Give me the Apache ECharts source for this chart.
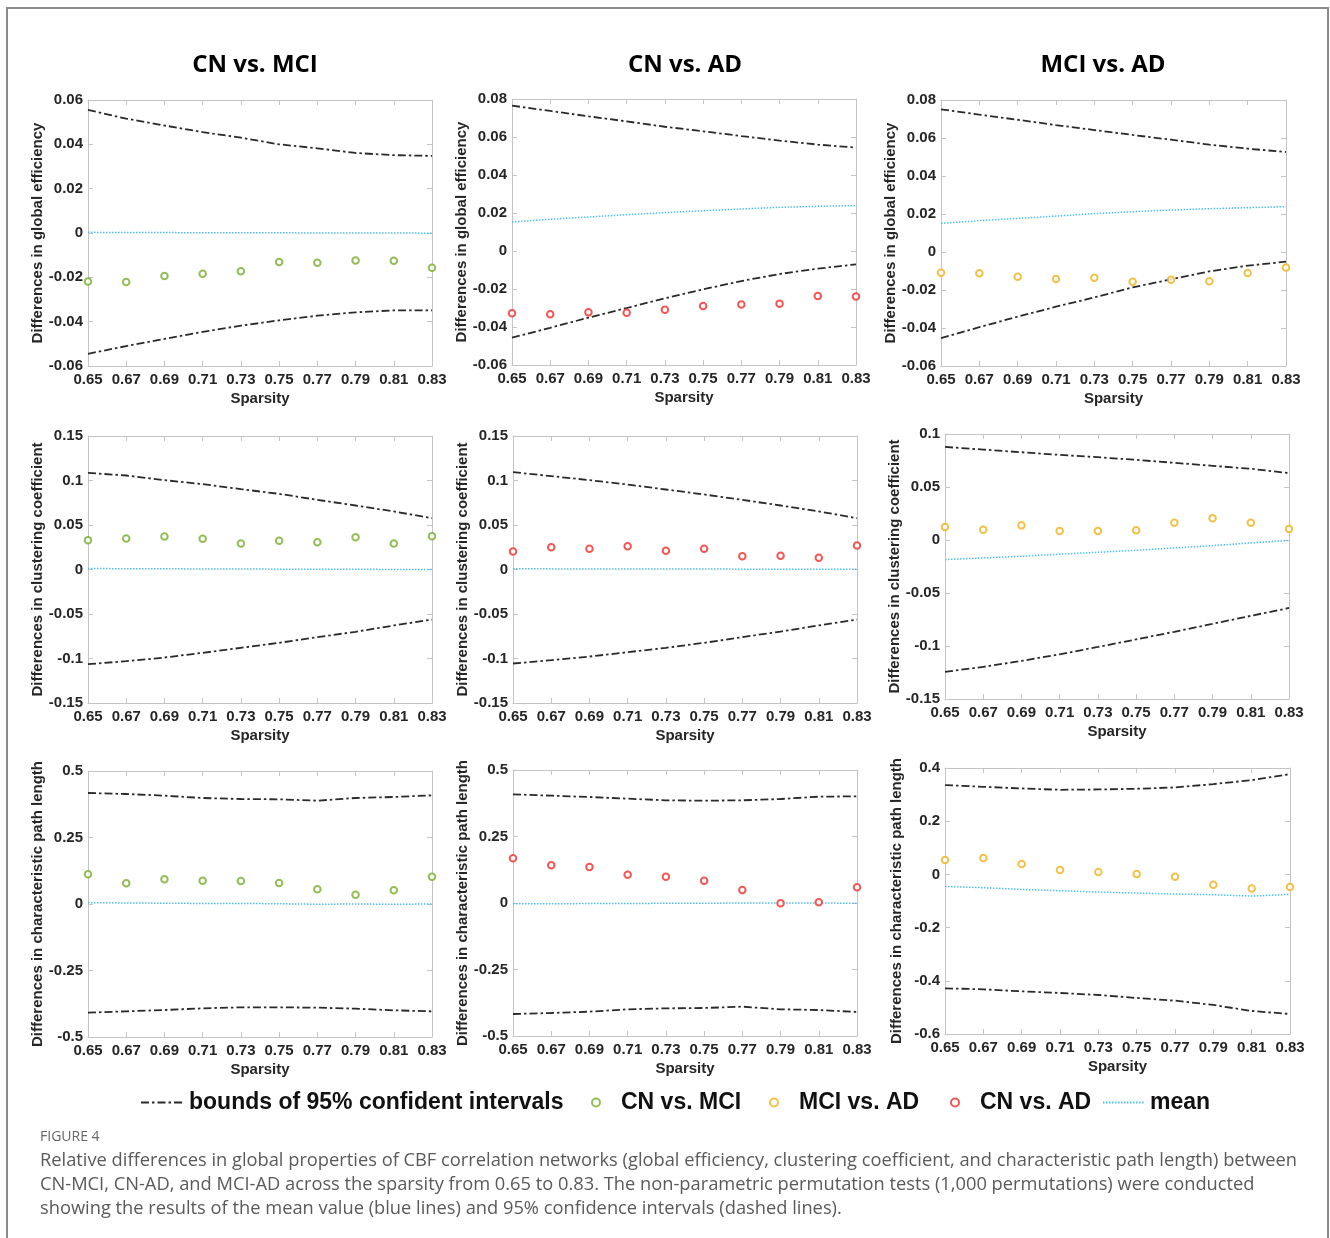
<!DOCTYPE html>
<html><head><meta charset="utf-8">
<script src="https://cdn.jsdelivr.net/npm/echarts@6/dist/echarts.min.js"></script>
<style>html,body{margin:0;padding:0;background:#fff}#c{width:1330px;height:1238px}</style>
</head><body><div id="c"></div>
<script>
// ---------- data ----------
const sparsity = ['0.65','0.67','0.69','0.71','0.73','0.75','0.77','0.79','0.81','0.83'];
const groupTitles = ['CN vs. MCI', 'CN vs. AD', 'MCI vs. AD'];
const measureNames = ['Differences in global efficiency', 'Differences in clustering coefficient', 'Differences in characteristic path length'];
const boundName = 'bounds of 95% confident intervals';
const meanName = 'mean';

// y-axis tick ranges [min, max, step] per row/column
const yTicksGE = [[-0.06, 0.06, 0.02], [-0.06, 0.08, 0.02], [-0.06, 0.08, 0.02]];
const yTicksCC = [[-0.15, 0.15, 0.05], [-0.15, 0.15, 0.05], [-0.15, 0.1, 0.05]];
const yTicksPL = [[-0.5, 0.5, 0.25], [-0.5, 0.5, 0.25], [-0.6, 0.4, 0.2]];

// Global efficiency
const geCnMciUpper = [0.0555, 0.0516, 0.0485, 0.0455, 0.0430, 0.0400, 0.0382, 0.0361, 0.0351, 0.0348];
const geCnMciLower = [-0.0545, -0.0510, -0.0478, -0.0446, -0.0418, -0.0394, -0.0373, -0.0358, -0.0349, -0.0349];
const geCnMciMean  = [0.0003, 0.0002, 0.0002, 0.0001, 0.0001, 0.0001, 0.0000, 0.0000, 0.0000, -0.0001];
const geCnMciDiff  = [-0.0219, -0.0221, -0.0194, -0.0184, -0.0173, -0.0131, -0.0134, -0.0124, -0.0125, -0.0157];

const geCnAdUpper = [0.0765, 0.0737, 0.0709, 0.0682, 0.0654, 0.0630, 0.0605, 0.0581, 0.0560, 0.0544];
const geCnAdLower = [-0.0456, -0.0404, -0.0351, -0.0300, -0.0249, -0.0202, -0.0158, -0.0121, -0.0093, -0.0070];
const geCnAdMean  = [0.0153, 0.0167, 0.0179, 0.0191, 0.0202, 0.0212, 0.0221, 0.0230, 0.0235, 0.0239];
const geCnAdDiff  = [-0.0328, -0.0333, -0.0323, -0.0325, -0.0309, -0.0289, -0.0282, -0.0277, -0.0237, -0.0239];

const geMciAdUpper = [0.0751, 0.0723, 0.0696, 0.0668, 0.0642, 0.0616, 0.0591, 0.0565, 0.0544, 0.0526];
const geMciAdLower = [-0.0453, -0.0396, -0.0340, -0.0288, -0.0239, -0.0186, -0.0144, -0.0102, -0.0072, -0.0051];
const geMciAdMean  = [0.0151, 0.0165, 0.0177, 0.0189, 0.0202, 0.0212, 0.0221, 0.0228, 0.0233, 0.0239];
const geMciAdDiff  = [-0.0109, -0.0112, -0.0130, -0.0142, -0.0135, -0.0156, -0.0146, -0.0154, -0.0111, -0.0081];

// Clustering coefficient
const ccCnMciUpper = [0.1086, 0.1056, 0.1004, 0.0959, 0.0903, 0.0850, 0.0783, 0.0719, 0.0652, 0.0577];
const ccCnMciLower = [-0.1064, -0.1030, -0.0989, -0.0936, -0.0880, -0.0824, -0.0760, -0.0700, -0.0629, -0.0562];
const ccCnMciMean  = [0.0011, 0.0009, 0.0008, 0.0006, 0.0005, 0.0004, 0.0003, 0.0002, 0.0001, 0.0000];
const ccCnMciDiff  = [0.0330, 0.0348, 0.0371, 0.0345, 0.0292, 0.0322, 0.0307, 0.0363, 0.0292, 0.0375];

const ccCnAdUpper = [0.1094, 0.1049, 0.1004, 0.0955, 0.0899, 0.0843, 0.0783, 0.0719, 0.0652, 0.0577];
const ccCnAdLower = [-0.1056, -0.1019, -0.0978, -0.0929, -0.0880, -0.0824, -0.0760, -0.0697, -0.0629, -0.0562];
const ccCnAdMean  = [0.0008, 0.0007, 0.0007, 0.0006, 0.0005, 0.0005, 0.0004, 0.0004, 0.0003, 0.0003];
const ccCnAdDiff  = [0.0202, 0.0251, 0.0232, 0.0262, 0.0210, 0.0232, 0.0150, 0.0154, 0.0131, 0.0270];

const ccMciAdUpper = [0.0878, 0.0853, 0.0828, 0.0803, 0.0781, 0.0756, 0.0728, 0.0700, 0.0672, 0.0631];
const ccMciAdLower = [-0.1244, -0.1197, -0.1141, -0.1078, -0.1009, -0.0938, -0.0866, -0.0791, -0.0716, -0.0641];
const ccMciAdMean  = [-0.0184, -0.0169, -0.0153, -0.0134, -0.0116, -0.0097, -0.0075, -0.0053, -0.0028, -0.0003];
const ccMciAdDiff  = [0.0122, 0.0097, 0.0138, 0.0084, 0.0084, 0.0091, 0.0163, 0.0206, 0.0163, 0.0103];

// Characteristic path length
const plCnMciUpper = [0.4173, 0.4135, 0.4073, 0.3985, 0.3947, 0.3935, 0.3885, 0.3985, 0.4023, 0.4085];
const plCnMciLower = [-0.4085, -0.4035, -0.3985, -0.3922, -0.3885, -0.3885, -0.3897, -0.3935, -0.3997, -0.4035];
const plCnMciMean  = [0.005, 0.004, 0.003, 0.002, 0.002, 0.001, -0.001, 0.000, -0.001, 0.000];
const plCnMciDiff  = [0.1115, 0.0777, 0.0927, 0.0877, 0.0865, 0.0789, 0.0551, 0.0351, 0.0514, 0.1028];

const plCnAdUpper = [0.4085, 0.4035, 0.3985, 0.3922, 0.3860, 0.3847, 0.3860, 0.3910, 0.3997, 0.4010];
const plCnAdLower = [-0.4173, -0.4135, -0.4085, -0.3997, -0.3960, -0.3947, -0.3897, -0.3997, -0.4023, -0.4098];
const plCnAdMean  = [-0.003, -0.003, -0.002, -0.002, -0.001, -0.001, 0.000, 0.000, 0.000, -0.001];
const plCnAdDiff  = [0.1679, 0.1416, 0.1353, 0.1065, 0.0990, 0.0840, 0.0489, -0.0013, 0.0025, 0.0589];

const plMciAdUpper = [0.3356, 0.3294, 0.3231, 0.3181, 0.3193, 0.3219, 0.3269, 0.3394, 0.3544, 0.3770];
const plMciAdLower = [-0.4283, -0.4321, -0.4396, -0.4458, -0.4533, -0.4646, -0.4746, -0.4909, -0.5135, -0.5247];
const plMciAdMean  = [-0.0451, -0.0501, -0.0564, -0.0614, -0.0664, -0.0701, -0.0739, -0.0764, -0.0814, -0.0751];
const plMciAdDiff  = [0.0539, 0.0614, 0.0388, 0.0163, 0.0088, 0.0013, -0.0088, -0.0388, -0.0526, -0.0476];

const captionLabel = 'FIGURE 4';
const captionLines = [
  'Relative differences in global properties of CBF correlation networks (global efficiency, clustering coefficient, and characteristic path length) between',
  'CN-MCI, CN-AD, and MCI-AD across the sparsity from 0.65 to 0.83. The non-parametric permutation tests (1,000 permutations) were conducted',
  'showing the results of the mean value (blue lines) and 95% confidence intervals (dashed lines).'
];

// ---------- build ----------
const groupColors = ['#77AC30', '#E8312C', '#EDB120']; // CN vs MCI, CN vs AD, MCI vs AD
const boundColor = '#2a2a2a';
const meanColor = '#4DBEEE';
const axisColor = '#c4c4c4';
const textColor = '#262626';
const FONT = 'Liberation Sans, Arial, sans-serif';

const panelData = [
  [[geCnMciUpper, geCnMciLower, geCnMciMean, geCnMciDiff], [geCnAdUpper, geCnAdLower, geCnAdMean, geCnAdDiff], [geMciAdUpper, geMciAdLower, geMciAdMean, geMciAdDiff]],
  [[ccCnMciUpper, ccCnMciLower, ccCnMciMean, ccCnMciDiff], [ccCnAdUpper, ccCnAdLower, ccCnAdMean, ccCnAdDiff], [ccMciAdUpper, ccMciAdLower, ccMciAdMean, ccMciAdDiff]],
  [[plCnMciUpper, plCnMciLower, plCnMciMean, plCnMciDiff], [plCnAdUpper, plCnAdLower, plCnAdMean, plCnAdDiff], [plMciAdUpper, plMciAdLower, plMciAdMean, plMciAdDiff]]
];
const yTicks = [yTicksGE, yTicksCC, yTicksPL];

// layout of plot boxes (pixels)
const gridRects = [
  [[88, 100, 344, 266, 43], [512, 99, 344, 266, 43], [941, 100, 345, 266, 42]],
  [[88, 436, 344, 267, 42], [513, 436, 344, 267, 41], [945, 434, 344, 265, 42]],
  [[88, 771, 344, 266, 42], [513, 770, 344, 266, 41], [945, 768, 345, 266, 41]]
];

const fmt = v => String(+(+v).toFixed(4));
const grids = [], xAxes = [], yAxes = [], series = [];
let gi = 0;
for (let r = 0; r < 3; r++) {
  for (let c = 0; c < 3; c++) {
    const [l, t, w, h, ng] = gridRects[r][c];
    grids.push({ left: l, top: t, width: w, height: h, containLabel: false });
    const [mn, mx, step] = yTicks[r][c];
    const lineSty = { show: true, onZero: false, lineStyle: { color: axisColor, width: 1 } };
    const tickSty = { show: true, inside: true, length: 5, lineStyle: { color: axisColor, width: 1 } };
    const xBase = {
      type: 'category', data: sparsity, boundaryGap: false, gridIndex: gi,
      axisLine: lineSty, axisTick: Object.assign({ interval: 0 }, tickSty), splitLine: { show: false }
    };
    xAxes.push(Object.assign({}, xBase, {
      position: 'bottom', name: 'Sparsity', nameLocation: 'middle', nameGap: 25,
      nameTextStyle: { fontFamily: FONT, fontWeight: 'bold', fontSize: 15, color: textColor },
      axisLabel: { interval: 0, margin: 6, fontFamily: FONT, fontWeight: 'bold', fontSize: 15, color: textColor }
    }));
    xAxes.push(Object.assign({}, xBase, { position: 'top', axisLabel: { show: false } }));
    const yBase = {
      type: 'value', min: mn, max: mx, interval: step, gridIndex: gi,
      axisLine: lineSty, axisTick: tickSty, splitLine: { show: false }
    };
    yAxes.push(Object.assign({}, yBase, {
      position: 'left', name: measureNames[r], nameLocation: 'middle', nameGap: ng,
      nameTextStyle: { fontFamily: FONT, fontWeight: 'bold', fontSize: 15, color: textColor },
      axisLabel: { margin: 5, formatter: fmt, fontFamily: FONT, fontWeight: 'bold', fontSize: 15, color: textColor }
    }));
    yAxes.push(Object.assign({}, yBase, { position: 'right', axisLabel: { show: false } }));

    const [up, lo, me, df] = panelData[r][c];
    const xi = gi * 2, yi = gi * 2;
    const boundStyle = { color: boundColor, width: 1.8, type: [8, 3, 2.5, 3] };
    series.push({ type: 'line', name: boundName, xAxisIndex: xi, yAxisIndex: yi, data: up, symbol: 'none', lineStyle: boundStyle, itemStyle: { color: boundColor }, z: 2 });
    series.push({ type: 'line', name: boundName, xAxisIndex: xi, yAxisIndex: yi, data: lo, symbol: 'none', lineStyle: boundStyle, itemStyle: { color: boundColor }, z: 2 });
    series.push({ type: 'line', name: meanName, xAxisIndex: xi, yAxisIndex: yi, data: me, symbol: 'none', lineStyle: { color: meanColor, width: 1.5, type: [1.5, 1.5] }, itemStyle: { color: meanColor }, z: 2 });
    series.push({ type: 'scatter', name: groupTitles[c], xAxisIndex: xi, yAxisIndex: yi, data: df, symbol: 'emptyCircle', symbolSize: 6.5,
      itemStyle: { color: groupColors[c], borderColor: groupColors[c], borderWidth: 1.7 }, z: 3 });
    gi++;
  }
}

const legendText = { fontFamily: FONT, fontWeight: 'bold', fontSize: 23, color: '#111' };
const legendTop = 1091;
const hideSymbol = { opacity: 0 };
const legends = [
  { left: 140, itemWidth: 43, itemHeight: 14, data: [{ name: boundName, itemStyle: hideSymbol }] },
  { left: 591, itemWidth: 40, itemHeight: 8, data: [groupTitles[0]] },
  { left: 769, itemWidth: 40, itemHeight: 8, data: [groupTitles[2]] },
  { left: 950, itemWidth: 40, itemHeight: 8, data: [groupTitles[1]] },
  { left: 1102, itemWidth: 42, itemHeight: 14, data: [{ name: meanName, itemStyle: hideSymbol }] }
].map(o => Object.assign({ top: legendTop, padding: 0, orient: 'horizontal', textStyle: legendText, selectedMode: false }, o));

const titleX = [255, 685, 1103];
const graphics = [
  { type: 'rect', shape: { x: 7, y: 8, width: 1321, height: 1320 }, style: { fill: 'none', stroke: '#8a8a8a', lineWidth: 2 }, silent: true }
];
titleX.forEach((x, i) => graphics.push({
  type: 'text', x: x, y: 65, style: { text: groupTitles[i], fontFamily: 'Open Sans, sans-serif', fontWeight: 'bold', fontSize: 24, fill: '#000', align: 'center', verticalAlign: 'middle' }
}));
graphics.push({ type: 'text', x: 40, y: 1137, style: { text: captionLabel, fontFamily: 'Open Sans, sans-serif', fontSize: 14, fill: '#666', align: 'left', verticalAlign: 'middle' } });
captionLines.forEach((s, i) => graphics.push({
  type: 'text', x: 40, y: 1161 + i * 24, style: { text: s, fontFamily: 'Open Sans, sans-serif', fontSize: 18.3, fill: '#5a5a5a', align: 'left', verticalAlign: 'middle' }
}));

const chart = echarts.init(document.getElementById('c'), null, { renderer: 'canvas' });
chart.setOption({
  animation: false,
  backgroundColor: '#fff',
  grid: grids, xAxis: xAxes, yAxis: yAxes, series: series,
  legend: legends,
  graphic: graphics
});
</script></body></html>
